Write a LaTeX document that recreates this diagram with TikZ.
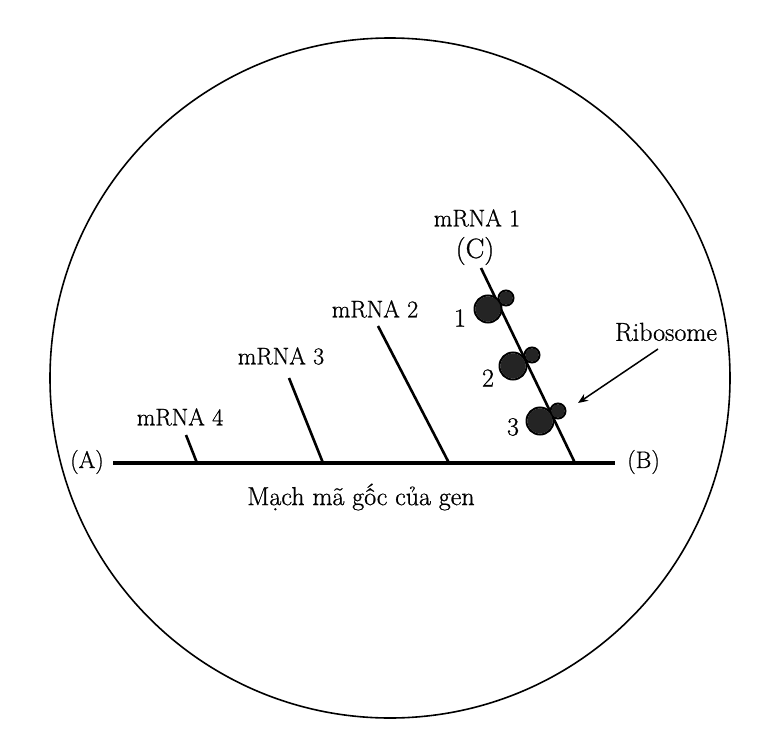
\documentclass[tikz,border=0pt]{standalone}
\usepackage{fontspec}
\setmainfont{Latin Modern Roman}[BoldFont=*,BoldFeatures={FakeBold=0.8}]
\usetikzlibrary{arrows.meta}
\begin{document}
\begin{tikzpicture}[x=1pt,y=-1pt,
  lbl/.style={inner sep=0pt,font=\fontsize{24}{26}\selectfont\bfseries},
  num/.style={inner sep=0pt,font=\fontsize{26}{28}\selectfont\bfseries},
  strand/.style={line width=2.6pt},
  gene/.style={line width=4pt},
  ribo/.style={draw=black,line width=2pt},
  ribofill/.style={fill=black!86}]
\useasboundingbox (0,0) rectangle (778,730);
\node[circle,draw,line width=1.6pt,minimum size=680pt,inner sep=0pt] (cell) at (390,378) {};
% gene strand
\coordinate (A0) at (113,463);
\coordinate (B0) at (615,463);
\draw[gene] (A0) -- (B0);
\node[lbl,anchor=east] (A) at (104,462) {(A)};
\node[lbl,anchor=west] (B) at (627,462) {(B)};
\node[num] (gen) at (361,497) {Mạch mã gốc của gen};
% mRNA strands
\coordinate (m4a) at (186,435); \coordinate (m4b) at (197,463);
\coordinate (m3a) at (289,378); \coordinate (m3b) at (323,463);
\coordinate (m2a) at (378,326); \coordinate (m2b) at (449,463);
\coordinate (m1a) at (481,268); \coordinate (m1b) at (575,463);
\draw[strand] (m4a) -- (m4b);
\draw[strand] (m3a) -- (m3b);
\draw[strand] (m2a) -- (m2b);
\draw[strand] (m1a) -- (m1b);
\node[lbl] (l4) at (180,417) {mRNA 4};
\node[lbl] (l3) at (281,356) {mRNA 3};
\node[lbl] (l2) at (375,309) {mRNA 2};
\node[lbl] (l1) at (477,218) {mRNA 1};
\node[inner sep=0pt,font=\fontsize{28}{30}\selectfont\bfseries] (C) at (475,251) {(C)};
% ribosomes
\foreach \bx/\by/\sx/\sy in {488/309/506/298, 513/366/532/355, 540/421/558/411}{
  \draw[ribo] (\sx,\sy) circle (7.5);
  \draw[ribo] (\bx,\by) circle (13.5);
  \fill[ribofill] (\sx,\sy) circle (6.6);
  \fill[ribofill] (\bx,\by) circle (12.6);
}
\node[num] (n1) at (460,318) {1};
\node[num] (n2) at (488,378) {2};
\node[num] (n3) at (513,427) {3};
\node[num] (ribolbl) at (666,332) {Ribosome};
\coordinate (rtip) at (578,403);
\draw[-{Stealth[length=10pt,width=8pt]},line width=1.5pt] (658,349) -- (rtip);
\end{tikzpicture}
\end{document}
